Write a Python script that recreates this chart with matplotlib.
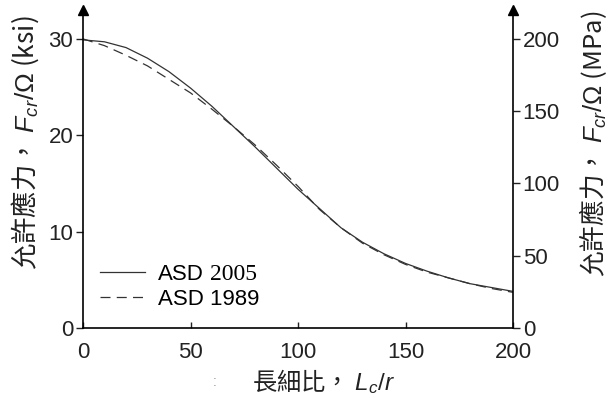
import matplotlib
matplotlib.use("Agg")
import matplotlib.pyplot as plt

plt.rcParams['font.family'] = ['Liberation Sans', 'Noto Sans CJK TC']
plt.rcParams['mathtext.fontset'] = 'custom'
plt.rcParams['mathtext.rm'] = 'Liberation Sans'
plt.rcParams['mathtext.it'] = 'Liberation Sans:italic'

# slenderness ratio L_c/r
lr = [0, 10, 20, 30, 40, 50, 60, 70, 80, 90, 100, 110, 120, 130, 140, 150, 160, 170, 180, 190, 200]
# allowable stress (ksi)
asd2005 = [29.9, 29.7, 29.1, 28.0, 26.6, 24.9, 23.0, 20.9, 18.8, 16.6, 14.4, 12.4, 10.4, 8.9, 7.7, 6.7, 5.9, 5.2, 4.6, 4.2, 3.8]
asd1989 = [30.0, 29.3, 28.3, 27.2, 25.8, 24.4, 22.7, 20.9, 19.0, 16.9, 14.7, 12.3, 10.4, 8.8, 7.6, 6.6, 5.8, 5.2, 4.6, 4.1, 3.7]

xticks = [0, 50, 100, 150, 200]
yticks_ksi = [0, 10, 20, 30]
yticks_mpa = [0, 50, 100, 150, 200]

fig = plt.figure(figsize=(6.15, 3.98), dpi=100)
ax = fig.add_axes([83/615, 1-328/398, 430/615, 318/398])

ax.plot(lr, asd2005, color='#333333', lw=0.9, label='ASD 2005')
ax.plot(lr, asd1989, color='#333333', lw=0.9, ls=(0, (8, 5)), label='ASD 1989')

ax.set_xlim(0, 200)
ax.set_ylim(0, 33)
ax.set_xticks(xticks)
ax.set_yticks(yticks_ksi)
ax.spines['top'].set_visible(False)
ax.spines['right'].set_visible(False)
for s in ['left', 'bottom']:
    ax.spines[s].set_linewidth(1.2)
ax.tick_params(axis='x', direction='in', length=4, width=1, labelsize=16, pad=10, colors='#222222')
ax.tick_params(axis='y', direction='out', length=5, width=1, labelsize=16, pad=2, colors='#222222')

ax2 = ax.twinx()
ax2.set_ylim(0, 33*200/30)
ax2.set_yticks(yticks_mpa)
for s in ['top', 'left', 'bottom']:
    ax2.spines[s].set_visible(False)
ax2.spines['right'].set_linewidth(1.2)
ax2.tick_params(axis='y', direction='out', length=5, width=1, labelsize=16, pad=2, colors='#222222')

# arrow heads on the vertical axes
ax.plot([0, 1], [1, 1], marker='^', ms=7, color='k', ls='none', transform=ax.transAxes, clip_on=False)

leg = ax.legend(loc='lower left', bbox_to_anchor=(0.02, 0.03), frameon=False, fontsize=16,
                handlelength=2.0, handletextpad=0.6, labelspacing=0.15, borderaxespad=0)
t0 = leg.get_texts()[0]
t0.set_text('ASD')
ax.annotate('2005', xy=(1, 0), xycoords=t0, xytext=(4, 0), textcoords='offset points',
            fontsize=17, family='Liberation Serif', va='bottom')

fig.text(25/615, 1-143/398, '允許應力， $F_{cr}/\\Omega$ (ksi)', rotation=90, ha='center', va='center',
         fontsize=19, family='Noto Sans CJK TC', color='#222222')
fig.text(593/615, 1-144/398, '允許應力， $F_{cr}/\\Omega$ (MPa)', rotation=90, ha='center', va='center',
         fontsize=18.5, family='Noto Sans CJK TC', color='#222222')
fig.text(323/615, 1-382/398, '長細比， $L_c/r$', ha='center', va='center',
         fontsize=17.5, family='Noto Sans CJK TC', color='#222222')
fig.text(215/615, 1-382/398, ':', ha='center', va='center', fontsize=10, color='#999999')

fig.canvas.draw()
fig.savefig('out.png', dpi=100)
